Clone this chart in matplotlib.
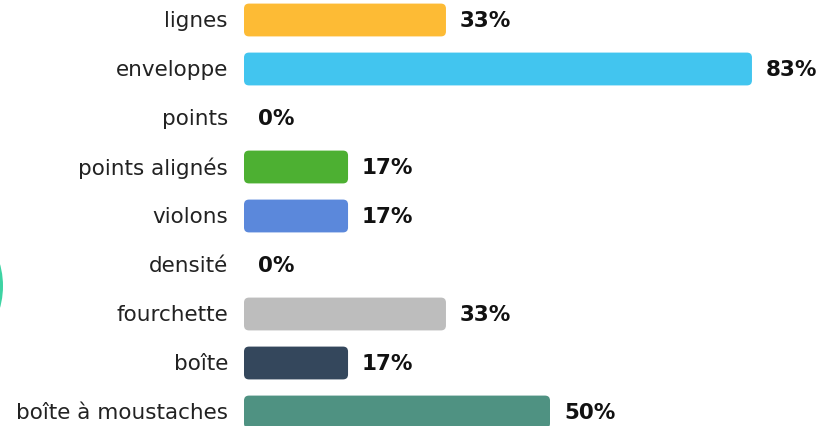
import matplotlib
matplotlib.use("Agg")
import matplotlib.pyplot as plt
from matplotlib.patches import FancyBboxPatch, Circle

categories = ["lignes", "enveloppe", "points", "points alignés", "violons",
              "densité", "fourchette", "boîte", "boîte à moustaches"]
values = [33, 83, 0, 17, 17, 0, 33, 17, 50]
colors = ["#FDBB35", "#42C5EF", "#999999", "#4DB032", "#5B88DB",
          "#999999", "#BDBDBD", "#34475C", "#4F9282"]

W, H, DPI = 827, 427, 100
fig = plt.figure(figsize=(W / DPI, H / DPI), dpi=DPI)
fig.patch.set_facecolor("white")

left_px = 244
ax = fig.add_axes([left_px / W, 0, 1 - left_px / W, 1])
px_per_unit_x = 6.12
row_px = 49.0
first_center_px = 21.0
ax.set_xlim(0, (W - left_px) / px_per_unit_x)
ax.set_ylim((H - first_center_px) / row_px, -first_center_px / row_px)
ax.axis("off")

bar_h = 0.67
radius_px = 5.0
for i, (cat, v, c) in enumerate(zip(categories, values, colors)):
    if v > 0:
        patch = FancyBboxPatch((0, i - bar_h / 2), v, bar_h,
                               boxstyle=f"round,pad=0,rounding_size={radius_px / px_per_unit_x}",
                               mutation_aspect=px_per_unit_x / row_px,
                               facecolor=c, edgecolor="none")
        ax.add_patch(patch)
    ax.text(-16 / px_per_unit_x, i, cat, ha="right", va="center",
            fontsize=15.5, color="#222222", clip_on=False)
    ax.text(v + 14 / px_per_unit_x, i, f"{v}%", ha="left", va="center",
            fontsize=15.5, fontweight="bold", color="#111111")

# decorative teal disc peeking in from the left edge
fig.patches.append(Circle((-0.79, 1.40), 0.82, transform=fig.dpi_scale_trans,
                          facecolor="#3DD3A3", edgecolor="none"))

fig.savefig("out.png", dpi=DPI)
